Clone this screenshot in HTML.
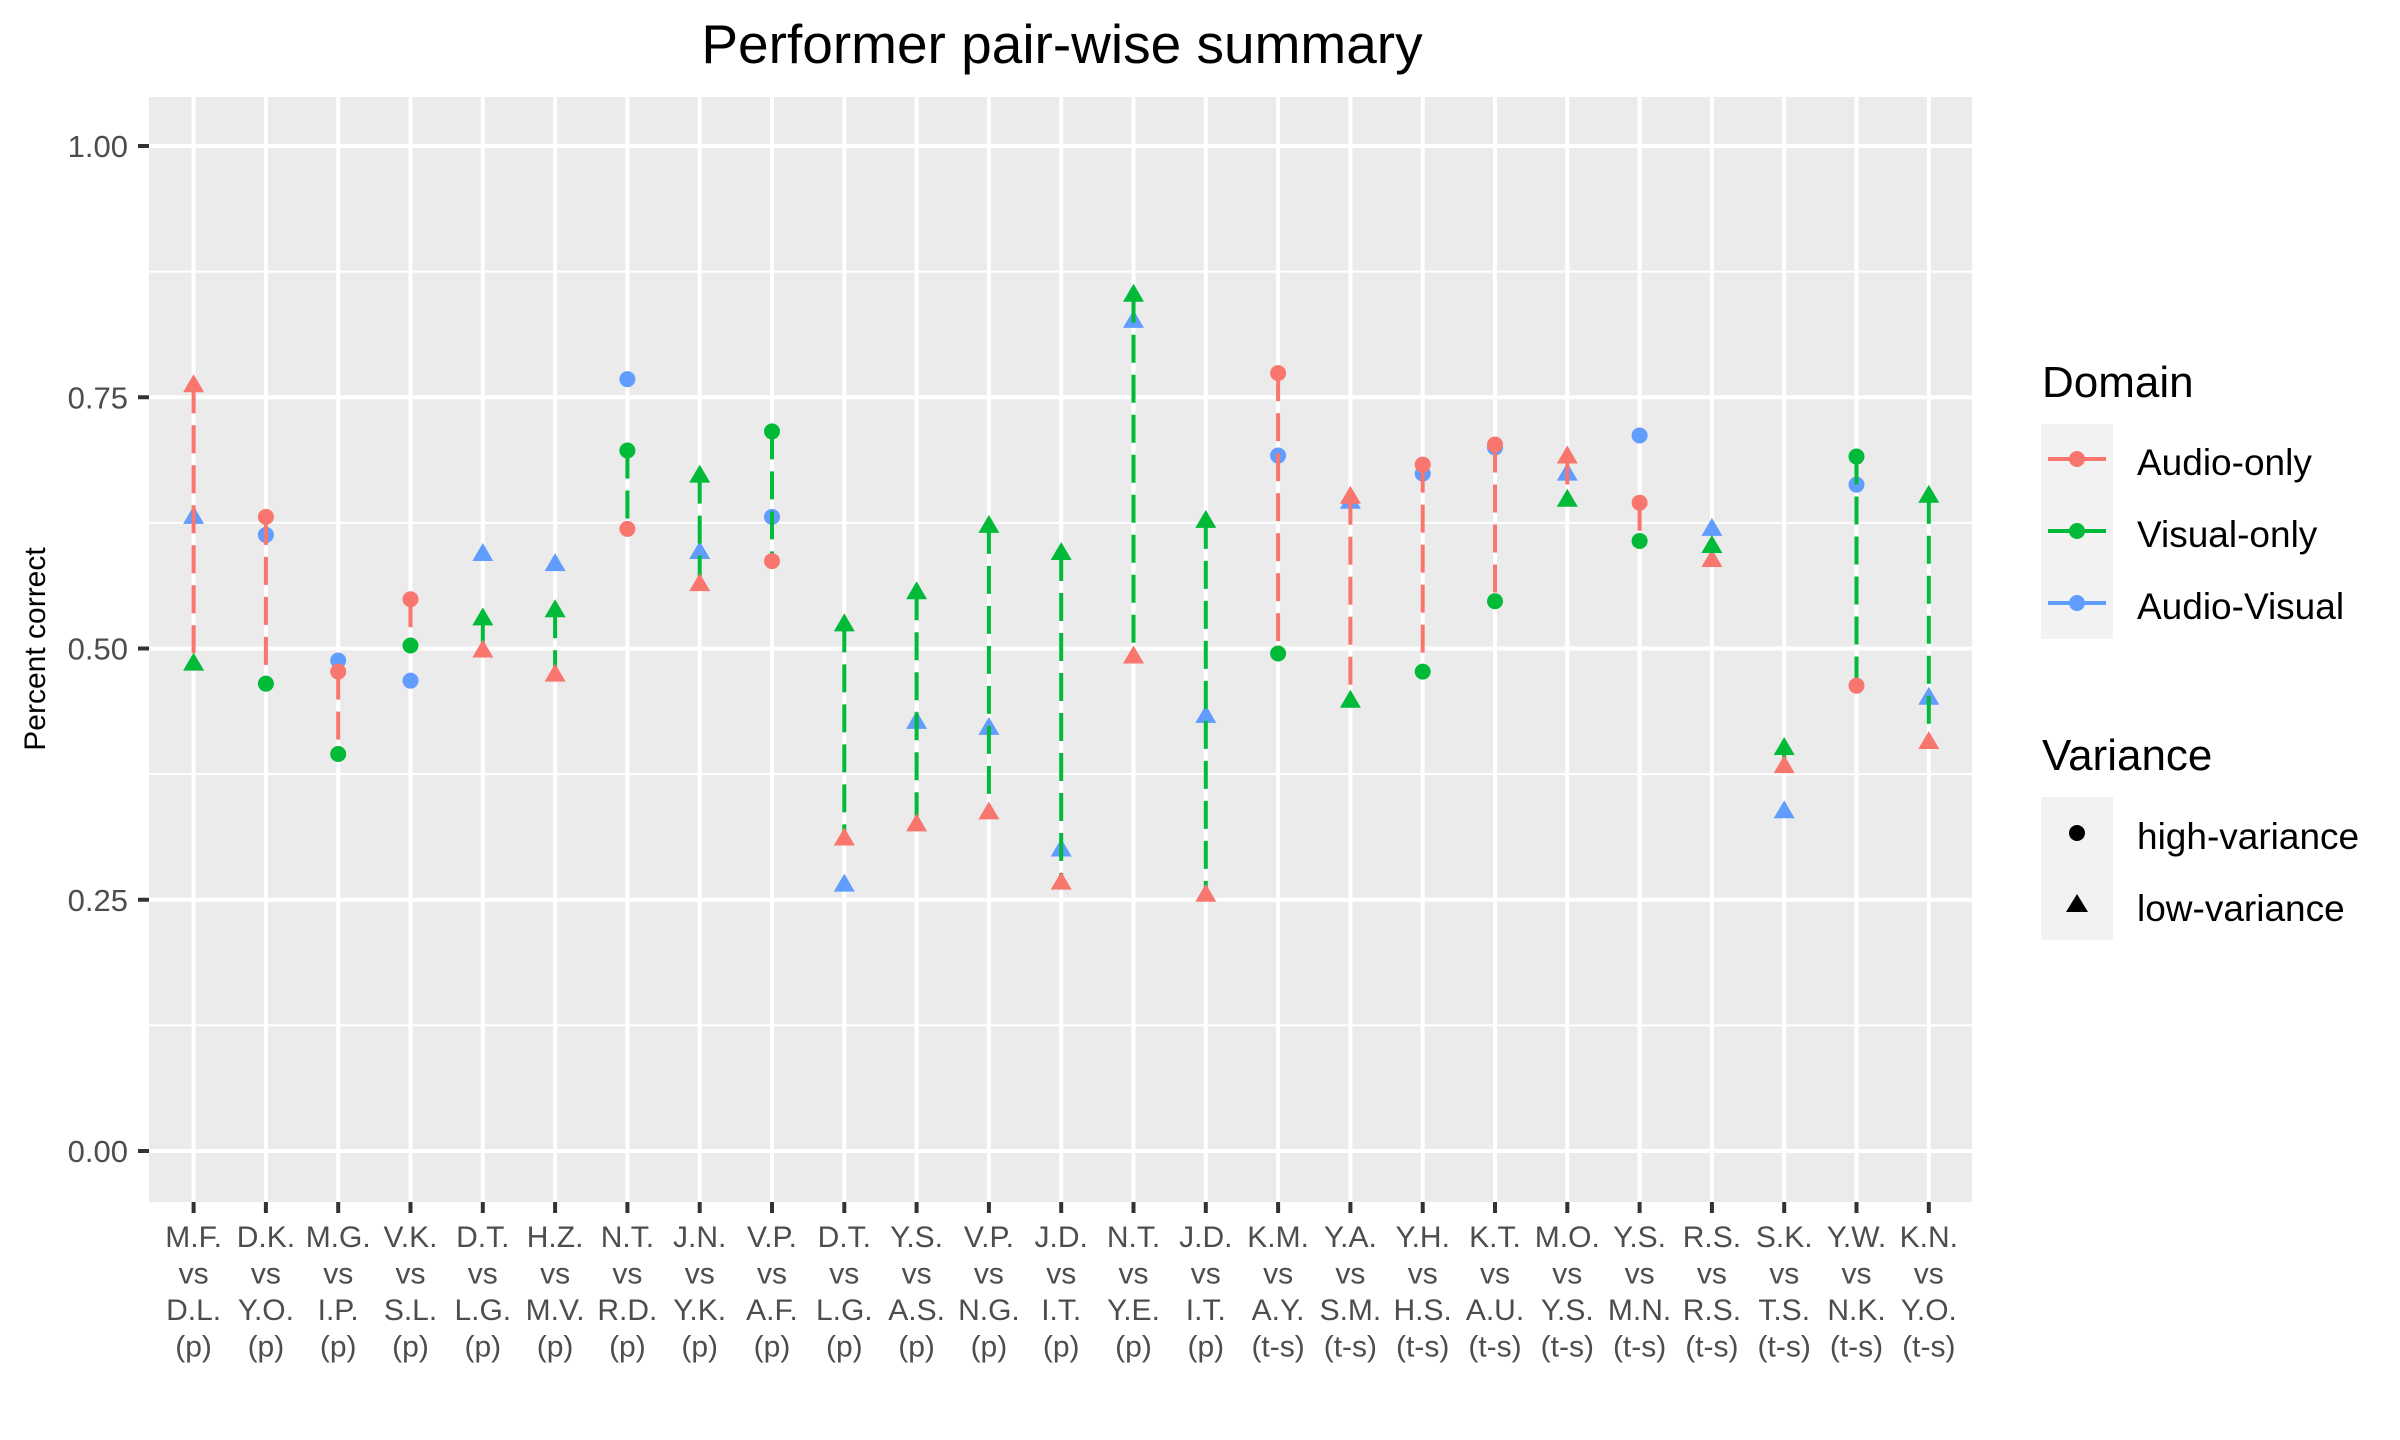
<!DOCTYPE html>
<html><head><meta charset="utf-8"><style>
html,body{margin:0;padding:0;background:#fff;}
svg{display:block;font-family:"Liberation Sans",Arial,sans-serif;}
</style></head><body>
<svg id="chart" width="2400" height="1440" viewBox="0 0 2400 1440">
<text x="1062" y="63" font-size="55" text-anchor="middle" fill="#000">Performer pair-wise summary</text>
<rect x="149" y="97" width="1823" height="1105" fill="#EBEBEB"/>
<g id="grid"></g>
<g id="marks"></g>
<g id="yaxis"></g>
<g id="xaxis"></g>
<text transform="translate(45,649) rotate(-90)" font-size="30" text-anchor="middle" fill="#000">Percent correct</text>
<g>
<text x="2042" y="397" font-size="44" fill="#000">Domain</text>
<rect x="2041" y="424" width="72" height="215" fill="#F2F2F2"/>
<g>
<line x1="2048" y1="459" x2="2106" y2="459" stroke="#F8766D" stroke-width="4" stroke-dasharray="28,6"/>
<circle cx="2077" cy="459" r="8" fill="#F8766D"/>
<text x="2137" y="475" font-size="37" fill="#000">Audio-only</text></g>
<g>
<line x1="2048" y1="531" x2="2106" y2="531" stroke="#00BA38" stroke-width="4" stroke-dasharray="28,6"/>
<circle cx="2077" cy="531" r="8" fill="#00BA38"/>
<text x="2137" y="547" font-size="37" fill="#000">Visual-only</text></g>
<g>
<line x1="2048" y1="603" x2="2106" y2="603" stroke="#619CFF" stroke-width="4" stroke-dasharray="28,6"/>
<circle cx="2077" cy="603" r="8" fill="#619CFF"/>
<text x="2137" y="619" font-size="37" fill="#000">Audio-Visual</text></g>
</g>
<g>
<text x="2042" y="770" font-size="44" fill="#000">Variance</text>
<rect x="2041" y="797" width="72" height="143" fill="#F2F2F2"/>
<g>
<circle cx="2077" cy="833" r="8" fill="#000"/>
<text x="2137" y="849" font-size="37" fill="#000">high-variance</text></g>
<g>
<polygon points="2077,894 2088,912 2066,912" fill="#000"/>
<text x="2137" y="921" font-size="37" fill="#000">low-variance</text></g>
</g>
</svg>
<script>
const topNames = ["M.F.","D.K.","M.G.","V.K.","D.T.","H.Z.","N.T.","J.N.","V.P.","D.T.","Y.S.","V.P.","J.D.","N.T.","J.D.","K.M.","Y.A.","Y.H.","K.T.","M.O.","Y.S.","R.S.","S.K.","Y.W.","K.N."];
const bottomNames = ["D.L.","Y.O.","I.P.","S.L.","L.G.","M.V.","R.D.","Y.K.","A.F.","L.G.","A.S.","N.G.","I.T.","Y.E.","I.T.","A.Y.","S.M.","H.S.","A.U.","Y.S.","M.N.","R.S.","T.S.","N.K.","Y.O."];
const pairType = ["(p)","(p)","(p)","(p)","(p)","(p)","(p)","(p)","(p)","(p)","(p)","(p)","(p)","(p)","(p)","(t-s)","(t-s)","(t-s)","(t-s)","(t-s)","(t-s)","(t-s)","(t-s)","(t-s)","(t-s)"];
const variance = ["low","high","high","high","low","low","high","low","high","low","low","low","low","low","low","high","low","high","high","low","high","low","low","high","low"];
const audioOnly = [0.762,0.631,0.477,0.549,0.498,0.474,0.619,0.564,0.587,0.311,0.325,0.337,0.267,0.492,0.255,0.774,0.651,0.683,0.703,0.691,0.645,0.588,0.383,0.463,0.407];
const visualOnly = [0.485,0.465,0.395,0.503,0.530,0.538,0.697,0.672,0.716,0.524,0.556,0.622,0.595,0.852,0.627,0.495,0.448,0.477,0.547,0.648,0.607,0.602,0.401,0.691,0.652];
const audioVisual = [0.631,0.613,0.488,0.468,0.594,0.584,0.768,0.596,0.631,0.265,0.427,0.421,0.300,0.826,0.433,0.692,0.646,0.674,0.700,0.674,0.712,0.619,0.338,0.663,0.451];
const yTicks = [0, 0.25, 0.5, 0.75, 1.0];
const yTickLabels = ["0.00","0.25","0.50","0.75","1.00"];
const yMinor = [0.125, 0.375, 0.625, 0.875];

const NS = "http://www.w3.org/2000/svg";
const COL = {A:"#F8766D", V:"#00BA38", AV:"#619CFF"};
function xScale(i){ return 193.6 + i * 72.3; }
function yScale(v){ return 1151 - v * 1005; }
function mk(tag, attrs, parent){
  const e = document.createElementNS(NS, tag);
  for (const k in attrs) e.setAttribute(k, attrs[k]);
  parent.appendChild(e); return e;
}
const grid = document.getElementById('grid');
const marks = document.getElementById('marks');
const yaxis = document.getElementById('yaxis');
const xaxis = document.getElementById('xaxis');

yMinor.forEach(v => {
  const l = mk('line', {x1:149, x2:1972, y1:yScale(v), y2:yScale(v), stroke:'#fff', 'stroke-width':2}, grid);
  
  
});
yTicks.forEach((v, k) => {
  const l = mk('line', {x1:149, x2:1972, y1:yScale(v), y2:yScale(v), stroke:'#fff', 'stroke-width':4}, grid);
  
  
  const t = mk('line', {x1:138, x2:149, y1:yScale(v), y2:yScale(v), stroke:'#333', 'stroke-width':4}, yaxis);
  
  
  const lab = mk('text', {x:128, y:yScale(v) + 11, 'font-size':31, 'text-anchor':'end', fill:'#4D4D4D'}, yaxis);
  lab.textContent = yTickLabels[k];
  
  
});
topNames.forEach((n, i) => {
  const x = xScale(i);
  const g = mk('line', {x1:x, x2:x, y1:97, y2:1202, stroke:'#fff', 'stroke-width':4}, grid);
  
  
  const t = mk('line', {x1:x, x2:x, y1:1202, y2:1213, stroke:'#333', 'stroke-width':4}, xaxis);
  
  
  const lab = mk('text', {x:x, y:1247, 'font-size':30, 'text-anchor':'middle', fill:'#4D4D4D'}, xaxis);
  
  
  const lines = [n, 'vs', bottomNames[i], pairType[i]];
  lines.forEach((s, j) => {
    const ts = mk('tspan', {x:x, y:1247 + j * 36.5}, lab);
    ts.textContent = s;
  });
});

function point(x, v, color, shape, parent){
  const y = yScale(v);
  let e;
  if (shape === 'high') e = mk('circle', {cx:x, cy:y, r:8, fill:color}, parent);
  else e = mk('polygon', {points:`${x},${y-11} ${x+10.5},${y+7} ${x-10.5},${y+7}`, fill:color}, parent);
  return e;
}
topNames.forEach((n, i) => {
  const x = xScale(i);
  const p = point(x, audioVisual[i], COL.AV, variance[i], marks);
  
  
  const a = audioOnly[i], v = visualOnly[i];
  const hi = Math.max(a, v), lo = Math.min(a, v);
  const ln = mk('line', {x1:x, x2:x, y1:yScale(hi), y2:yScale(lo), stroke: a >= v ? COL.A : COL.V, 'stroke-width':4, 'stroke-dasharray':'28,12'}, marks);
  
  
  const pa = point(x, a, COL.A, variance[i], marks);
  
  
  const pv = point(x, v, COL.V, variance[i], marks);
  
  
});
</script>
</body></html>
